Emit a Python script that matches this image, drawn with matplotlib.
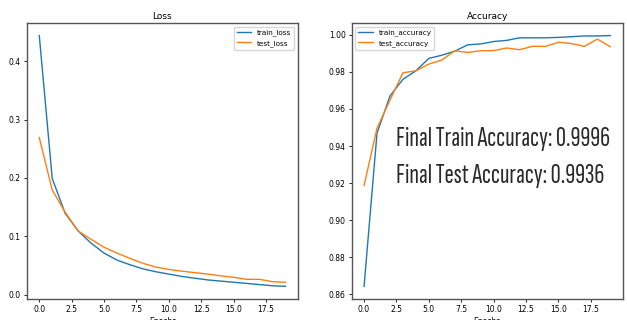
import matplotlib
matplotlib.use("Agg")
import matplotlib.pyplot as plt
import numpy as np

epochs = np.arange(20)

train_loss = [0.444, 0.199, 0.139, 0.109, 0.088, 0.071, 0.059, 0.051, 0.044, 0.039,
              0.035, 0.031, 0.028, 0.025, 0.023, 0.021, 0.019, 0.017, 0.015, 0.014]
test_loss = [0.269, 0.179, 0.141, 0.109, 0.0945, 0.081, 0.071, 0.062, 0.0535, 0.047,
             0.043, 0.040, 0.0375, 0.035, 0.032, 0.0295, 0.026, 0.026, 0.022, 0.021]

train_acc = [0.8643, 0.947, 0.967, 0.976, 0.9806, 0.9873, 0.989, 0.9912, 0.9946, 0.9951,
             0.9964, 0.997, 0.9984, 0.9984, 0.9984, 0.9986, 0.999, 0.9994, 0.9994, 0.9996]
test_acc = [0.9187, 0.9496, 0.9648, 0.9795, 0.9806, 0.9842, 0.9864, 0.9914, 0.9905, 0.9914,
            0.9915, 0.9929, 0.992, 0.9938, 0.9938, 0.996, 0.9953, 0.9938, 0.9977, 0.9936]

plt.rcParams['font.size'] = 5.5
big_font = ['Sofia Sans Extra Condensed', 'DejaVu Sans']

fig = plt.figure(figsize=(6.27, 3.2), dpi=100)
ax1 = fig.add_axes([0.043, 0.066, 0.432, 0.862])
ax2 = fig.add_axes([0.561, 0.066, 0.432, 0.862])

# loss
ax1.plot(epochs, train_loss, label='train_loss', lw=1.0)
ax1.plot(epochs, test_loss, label='test_loss', lw=1.0)
ax1.set_title('Loss', fontsize=6.5, pad=3)
ax1.set_xlabel('Epochs', fontsize=5.5)
ax1.legend(loc='upper right', fontsize=5.2)

# accuracy
ax2.plot(epochs, train_acc, label='train_accuracy', lw=1.0)
ax2.plot(epochs, test_acc, label='test_accuracy', lw=1.0)
ax2.set_title('Accuracy', fontsize=6.5, pad=3)
ax2.set_xlabel('Epochs', fontsize=5.5)
ax2.legend(loc='upper left', fontsize=5.2)

ax2.text(2.5, 0.94, 'Final Train Accuracy: ' + str(train_acc[-1]),
         fontsize=20, family=big_font, color='#2a2a2a')
ax2.text(2.5, 0.92, 'Final Test Accuracy: ' + str(test_acc[-1]),
         fontsize=20, family=big_font, color='#2a2a2a')

for ax in (ax1, ax2):
    ax.tick_params(labelsize=5.5, length=2.4, width=0.6, pad=2)
    ax.xaxis.labelpad = 2
    for s in ax.spines.values():
        s.set_color('#555555')
        s.set_linewidth(1.0)

fig.savefig('out.png')
